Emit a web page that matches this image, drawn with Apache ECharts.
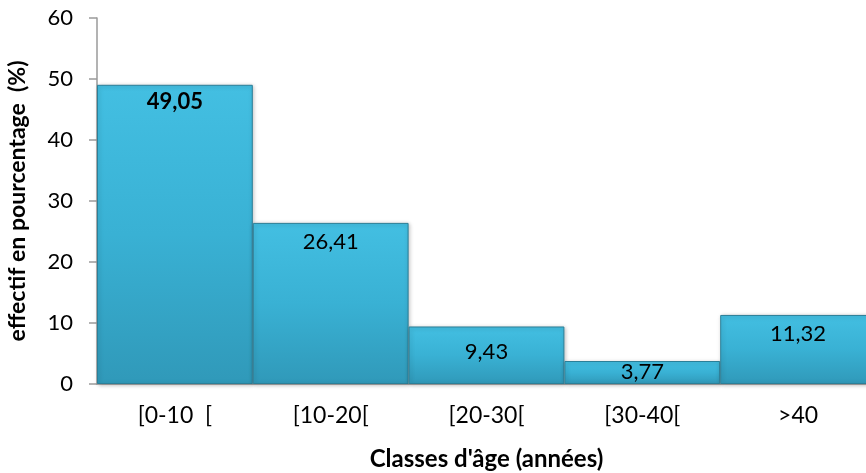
<!DOCTYPE html>
<html><head><meta charset="utf-8">
<script src="https://cdn.jsdelivr.net/npm/echarts@6/dist/echarts.min.js"></script>
<style>html,body{margin:0;padding:0;background:#fff}#c{width:866px;height:473px}</style>
</head><body><div id="c"></div>
<script>
const categories = ['[0-10  [', '[10-20[', '[20-30[', '[30-40[', '>40'];
const values = [49.05, 26.41, 9.43, 3.77, 11.32];
const labelTexts = ['49,05', '26,41', '9,43', '3,77', '11,32'];
const yTicks = [0, 10, 20, 30, 40, 50, 60];

const FONT = 'Lato';
const labelDist = [6, 8, 14, 0, 8];
const chart = echarts.init(document.getElementById('c'), null, {renderer: 'canvas'});
const barColor = new echarts.graphic.LinearGradient(0, 0, 0, 1, [
  {offset: 0, color: '#43bfe2'},
  {offset: 0.5, color: '#39b1d4'},
  {offset: 1, color: '#3099b9'}
]);
chart.setOption({
  animation: false,
  grid: {left: 97, right: -10, top: 18, bottom: 89, containLabel: false, outerBoundsMode: 'none'},
  xAxis: {
    type: 'category', data: categories,
    axisLine: {lineStyle: {color: '#9a9a9a', width: 1.5}},
    axisTick: {show: false},
    axisLabel: {fontFamily: FONT, fontSize: 23, color: '#000', margin: 20},
    name: "Classes d'âge (années)", nameLocation: 'middle', nameGap: 63,
    nameTextStyle: {fontFamily: FONT, fontSize: 24, fontWeight: 'bold', color: '#000'}
  },
  yAxis: {
    type: 'value', min: yTicks[0], max: yTicks[yTicks.length - 1], interval: 10,
    axisLine: {show: true, lineStyle: {color: '#9a9a9a', width: 1.5}},
    axisTick: {show: true, inside: false, length: 8, lineStyle: {color: '#9a9a9a', width: 1.5}},
    splitLine: {show: false},
    axisLabel: {fontFamily: FONT, fontSize: 22, color: '#000', margin: 24},
    name: 'effectif en pourcentage  (%)', nameLocation: 'middle', nameGap: 68, nameRotate: 90,
    nameTextStyle: {fontFamily: FONT, fontSize: 23, fontWeight: 'bold', color: '#000'}
  },
  series: [{
    type: 'bar', barCategoryGap: '0%',
    data: values.map((v, i) => ({
      value: v,
      label: {
        show: true, position: 'insideTop', distance: labelDist[i],
        formatter: labelTexts[i], fontFamily: FONT, fontSize: 22,
        fontWeight: i === 0 ? 'bold' : 'normal', color: '#000'
      }
    })),
    itemStyle: {
      color: barColor, borderColor: '#2b7f98', borderWidth: 1,
      shadowColor: 'rgba(0,0,0,0.25)', shadowBlur: 4, shadowOffsetX: 1, shadowOffsetY: 1
    }
  }]
});
</script></body></html>
